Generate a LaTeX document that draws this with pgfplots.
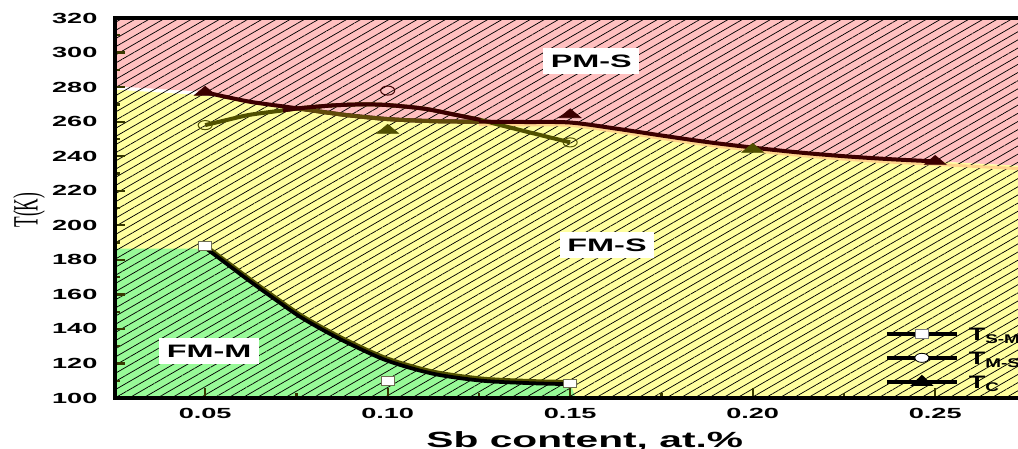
\documentclass[border=0pt]{standalone}
\usepackage{pgfplots}
\usepackage{pgfplotstable}
\pgfplotsset{compat=1.18}
\usepackage{fontspec}
\setmainfont{Liberation Sans}
\newfontfamily\seriffont{Liberation Serif}
\usetikzlibrary{patterns.meta}

\definecolor{pinkreg}{RGB}{255,192,192}
\definecolor{yellreg}{RGB}{255,255,160}
\definecolor{greenreg}{RGB}{152,250,152}
\definecolor{maroonl}{RGB}{60,0,0}
\definecolor{olivel}{RGB}{80,80,0}
\definecolor{brownl}{RGB}{95,75,10}
\definecolor{orangeband}{RGB}{255,212,140}
\definecolor{sqedge}{RGB}{110,110,80}

% measured data points
\pgfplotstableread{
x T
0.05 188
0.10 110
0.15 108.5
}\tsm
\pgfplotstableread{
x T
0.05 258
0.15 248
}\tmsolive
\pgfplotstableread{
x T
0.10 278
}\tmsmaroon
\pgfplotstableread{
x T
0.05 277
0.15 264
0.25 237
}\tcmaroon
\pgfplotstableread{
x T
0.10 255
0.20 244
}\tcolive

% fitted curves
\pgfplotstableread{
x T
0.0500 277.0
0.0560 274.2
0.0623 271.5
0.0690 269.5
0.0760 267.5
0.0880 264.0
0.1000 261.5
0.1125 260.3
0.1250 260.0
0.1375 259.8
0.1500 259.5
0.1625 256.0
0.1750 252.0
0.1875 248.2
0.2000 245.0
0.2125 242.2
0.2250 240.0
0.2375 238.3
0.2500 237.0
}\tccurve
\pgfplotstableread{
x T
0.1250 260.0
0.1375 259.8
0.1500 259.5
0.1625 256.0
0.1750 252.0
0.1875 248.2
0.2000 245.0
0.2125 242.2
0.2250 240.0
0.2375 238.3
0.2500 237.0
0.2625 235.6
0.2750 234.3
0.2827 233.5
}\bandcurve
\pgfplotstableread{
x T
0.0500 258.0
0.0560 261.0
0.0623 264.0
0.0713 266.5
0.0760 267.8
0.0850 269.4
0.0930 270.0
0.1000 269.6
0.1100 267.5
0.1180 264.2
0.1254 261.0
0.1305 258.2
0.1375 254.5
0.1442 251.0
0.1500 248.0
}\tmscurve
\pgfplotstableread{
x T
0.0500 187.5
0.0560 178.0
0.0623 168.0
0.0690 157.8
0.0760 147.5
0.0830 139.0
0.0897 131.7
0.1000 122.0
0.1125 114.5
0.1258 110.5
0.1400 109.0
0.1500 108.5
}\smcurve

\begin{document}
\begin{tikzpicture}
\begin{axis}[
  scale only axis, width=704.6pt, height=285pt,
  xmin=0.0253, xmax=0.2827, ymin=100, ymax=320,
  clip=false, axis on top,
  axis line style={black, line width=2.4pt},
  tick pos=left, tick align=inside,
  xtick={0.05,0.10,0.15,0.20,0.25}, minor x tick num=1,
  ytick={100,120,...,320}, minor y tick num=1,
  major tick length=7.5pt, minor tick length=4pt,
  tick style={line width=1.7pt, color=olivel!70!black},
  /pgf/number format/assume math mode=true,
  xticklabel={\scalebox{1.85}[1]{\pgfmathprintnumber[fixed,fixed zerofill,precision=2]{\tick}}},
  yticklabel={\scalebox{1.85}[1]{\pgfmathprintnumber[fixed,precision=0]{\tick}}},
  ticklabel style={font=\bfseries\fontsize{11}{13}\selectfont},
  xticklabel style={anchor=north, inner sep=0pt, yshift=-7.5pt},
  yticklabel style={anchor=east, inner sep=0pt, xshift=-13pt},
  legend style={draw=none, fill=none, inner sep=0pt, outer sep=0pt,
    at={(rel axis cs:0.8196,0.197)}, anchor=north west,
    row sep=2pt, column sep=7.5pt,
    nodes={inner sep=0pt, text height=13pt, text depth=3pt, anchor=west,
      font=\bfseries\fontsize{13.5}{16}\selectfont}},
  legend cell align=left,
  legend image code/.code={\draw[#1, mark repeat=2, mark phase=2] plot coordinates {(0pt,0pt) (26.25pt,0pt) (52.5pt,0pt)};},
]
% regions
\addplot[forget plot, draw=none, fill=pinkreg] coordinates {
(0.0253,320) (0.0253,280.5) (0.048,277.5) (0.05,277) (0.056,274.2) (0.0623,271.5)
(0.069,269.5) (0.076,267.5) (0.088,264) (0.10,261.5) (0.1125,260.3) (0.125,260)
(0.1375,259.8) (0.15,259.5) (0.1625,256) (0.175,252) (0.1875,248.2) (0.20,245)
(0.2125,242.2) (0.225,240) (0.2375,238.3) (0.25,237) (0.2625,235.6) (0.275,234.3)
(0.2827,233.5) (0.2827,320)} -- cycle;
\addplot[forget plot, draw=none, fill=yellreg] coordinates {
(0.0253,100) (0.0253,278.5) (0.048,275.5) (0.056,273.8) (0.0623,271.5)
(0.069,269.5) (0.076,267.5) (0.088,264) (0.10,261.5) (0.1125,260.3) (0.125,260)
(0.1375,259.8) (0.15,259.5) (0.1625,256) (0.175,252) (0.1875,248.2) (0.20,245)
(0.2125,242.2) (0.225,240) (0.2375,238.3) (0.25,237) (0.2625,235.6) (0.275,234.3)
(0.2827,233.5) (0.2827,100)} -- cycle;
\addplot[forget plot, draw=none, fill=greenreg] coordinates {
(0.0253,100) (0.0253,186.5) (0.05,186.5) (0.056,178.0) (0.0623,168.0) (0.069,157.8)
(0.076,147.5) (0.083,139.0) (0.0897,131.7) (0.10,122.0) (0.1125,114.5) (0.1258,110.5)
(0.14,109.0) (0.15,108.5) (0.1515,100)} -- cycle;
% hatching
\fill[pattern={Lines[angle=30,distance=5.3pt,line width=0.55pt]}, pattern color=black, fill opacity=0.34]
  (rel axis cs:0,0) rectangle (rel axis cs:1,1);
% orange band under the upper boundary
\addplot[forget plot, orangeband, line width=2.2pt, smooth, yshift=-2.2pt] table[x=x,y=T] {\bandcurve};
% T_S-M curve
\addplot[forget plot, olivel, line width=2.8pt, smooth, yshift=1.1pt] table[x=x,y=T] {\smcurve};
\addplot[forget plot, black, line width=2.8pt, smooth, yshift=-0.6pt] table[x=x,y=T] {\smcurve};
% T_M-S curve
\addplot[forget plot, olivel, line width=3pt, smooth] table[x=x,y=T] {\tmscurve};
% T_C curve
\addplot[forget plot, maroonl, line width=3pt, smooth] table[x=x,y=T] {\tccurve};
\addplot[forget plot, brownl, line width=3pt, smooth, restrict x to domain=0.076:0.125] table[x=x,y=T] {\tccurve};
\addplot[forget plot, maroonl, line width=3pt, smooth, restrict x to domain=0.071:0.1254] table[x=x,y=T] {\tmscurve};
% markers
\addplot[forget plot, only marks, mark=square*, mark size=3.2pt,
  mark options={fill=white, draw=sqedge, line width=0.75pt, xscale=1.55}] table[x=x,y=T] {\tsm};
\addplot[forget plot, only marks, mark=o, mark size=3.4pt,
  mark options={draw=olivel, line width=0.75pt, xscale=1.55}] table[x=x,y=T] {\tmsolive};
\addplot[forget plot, only marks, mark=o, mark size=3.4pt,
  mark options={draw=maroonl, line width=0.75pt, xscale=1.55}] table[x=x,y=T] {\tmsmaroon};
\addplot[forget plot, only marks, mark=triangle*, mark size=4.5pt,
  mark options={draw=maroonl, fill=maroonl, xscale=2.1}] table[x=x,y=T] {\tcmaroon};
\addplot[forget plot, only marks, mark=triangle*, mark size=4.5pt,
  mark options={draw=olivel, fill=olivel, xscale=2.1}] table[x=x,y=T] {\tcolive};
% region labels
\node[fill=white, inner xsep=5.6pt, inner ysep=4.9pt, font=\bfseries\fontsize{13.5}{16}\selectfont]
  at (axis cs:0.1558,295) {\scalebox{1.8}[1]{PM-S}};
\node[fill=white, inner xsep=5.6pt, inner ysep=4.9pt, font=\bfseries\fontsize{13.5}{16}\selectfont]
  at (axis cs:0.1601,188.6) {\scalebox{1.8}[1]{FM-S}};
\node[fill=white, inner xsep=5.6pt, inner ysep=4.9pt, font=\bfseries\fontsize{13.5}{16}\selectfont]
  at (axis cs:0.0511,127.2) {\scalebox{1.8}[1]{FM-M}};
% axis titles
\node[anchor=north, inner sep=0pt, yshift=-25pt, font=\bfseries\fontsize{16.5}{20}\selectfont]
  at (rel axis cs:0.5,0) {\scalebox{1.85}[1]{Sb content, at.\%}};
\node[rotate=90, inner sep=0pt, font=\seriffont\fontsize{13}{15}\selectfont]
  at (rel axis cs:-0.0915,0.4947) {\scalebox{1}[2.05]{T(K)}};
% legend
\addlegendimage{black, line width=2.8pt, mark=square*, mark size=3.2pt,
  mark options={solid, fill=white, draw=gray, line width=0.6pt, xscale=1.55}}
\addlegendentry{\scalebox{1.5}[1]{T\textsubscript{S-M}}}
\addlegendimage{black, line width=2.8pt, mark=*, mark size=3.4pt,
  mark options={solid, fill=white, draw=black, line width=0.6pt, xscale=1.55}}
\addlegendentry{\scalebox{1.5}[1]{T\textsubscript{M-S}}}
\addlegendimage{black, line width=2.8pt, mark=triangle*, mark size=3.4pt,
  mark options={solid, fill=black, draw=black, xscale=1.8}}
\addlegendentry{\scalebox{1.5}[1]{T\textsubscript{C}}}
% picture frame
\coordinate (bbsw) at (rel axis cs:-0.1224,-0.1316);
\coordinate (bbne) at (rel axis cs:0.9611,1.0474);
\end{axis}
\pgfresetboundingbox
\path[use as bounding box] (bbsw) rectangle (bbne);
\end{tikzpicture}
\end{document}
